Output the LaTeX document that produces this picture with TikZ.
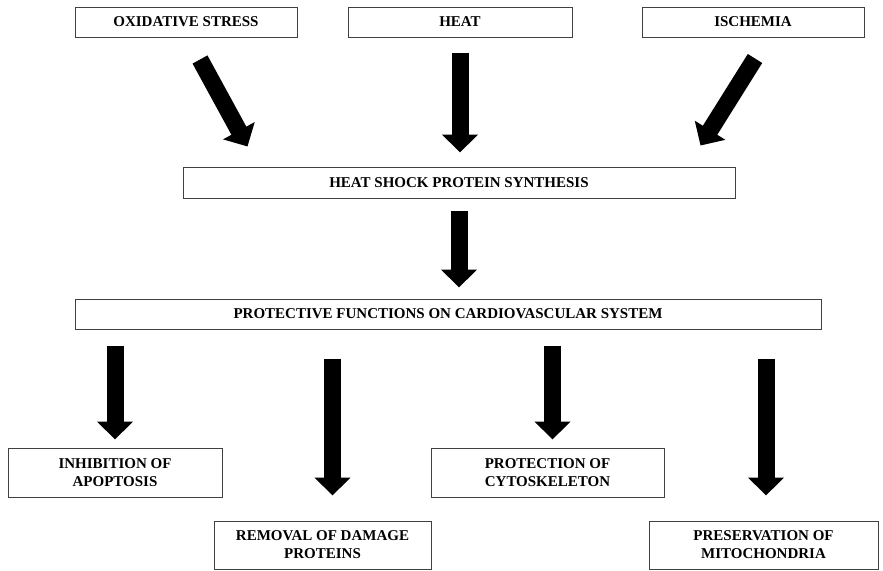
\documentclass[tikz,border=0pt]{standalone}
\usepackage{fontspec}
\setmainfont{Liberation Serif}
\usepackage{tikz}
\usetikzlibrary{
  arrows.meta,
  calc
}

\begin{document}
\begin{tikzpicture}[x=1pt, y=-1pt,
  font=\fontsize{15}{18}\selectfont\bfseries,
  box/.style={draw=black!75, line width=1pt, fill=white, align=center, inner sep=0pt},
  bigarrow/.style={draw=black, line width=17pt, -{Triangle[width=35pt, length=18pt]}}]
  \useasboundingbox (0,0) rectangle (883,570);
  % causes
  \node[box, minimum width=222, minimum height=30] (oxid) at (186,22) {OXIDATIVE STRESS};
  \node[box, minimum width=224, minimum height=30] (heat) at (460,22) {HEAT};
  \node[box, minimum width=222, minimum height=30] (isch) at (753,22) {ISCHEMIA};
  \node[box, minimum width=552, minimum height=31] (hsp) at (459,182.5) {HEAT SHOCK PROTEIN SYNTHESIS};
  \node[box, minimum width=746, minimum height=30] (prot) at (448,314) {PROTECTIVE FUNCTIONS ON CARDIOVASCULAR SYSTEM};
  % effects
  \node[box, minimum width=214, minimum height=49] (inhib) at (115,472.5) {INHIBITION OF\\APOPTOSIS};
  \node[box, minimum width=217, minimum height=48] (remov) at (322.5,545) {REMOVAL OF DAMAGE\\PROTEINS};
  \node[box, minimum width=233, minimum height=49] (cyto) at (547.5,472.5) {PROTECTION OF\\CYTOSKELETON};
  \node[box, minimum width=229, minimum height=48] (mito) at (763.5,545) {PRESERVATION OF\\MITOCHONDRIA};
  % arrows
  \draw[bigarrow] ($(oxid.south)+(14,22)$) -- ($(hsp.north west)+(65,-20)$);
  \draw[bigarrow, shorten <=15pt, shorten >=14pt] (heat.south) -- (heat.south |- hsp.north);
  \draw[bigarrow] ($(isch.south)+(2,21)$) -- ($(hsp.north east)+(-35,-21)$);
  \draw[bigarrow, shorten <=12pt, shorten >=11pt] (hsp.south) -- (hsp.south |- prot.north);
  \draw[bigarrow, shorten <=16pt, shorten >=8pt] (inhib.north |- prot.south) -- (inhib.north);
  \draw[bigarrow, shorten <=29pt, shorten >=25pt] ([xshift=10pt]remov.north |- prot.south) -- ([xshift=10pt]remov.north);
  \draw[bigarrow, shorten <=16pt, shorten >=8pt] ([xshift=5pt]cyto.north |- prot.south) -- ([xshift=5pt]cyto.north);
  \draw[bigarrow, shorten <=29pt, shorten >=25pt] ([xshift=2.5pt]mito.north |- prot.south) -- ([xshift=2.5pt]mito.north);
\end{tikzpicture}
\end{document}
